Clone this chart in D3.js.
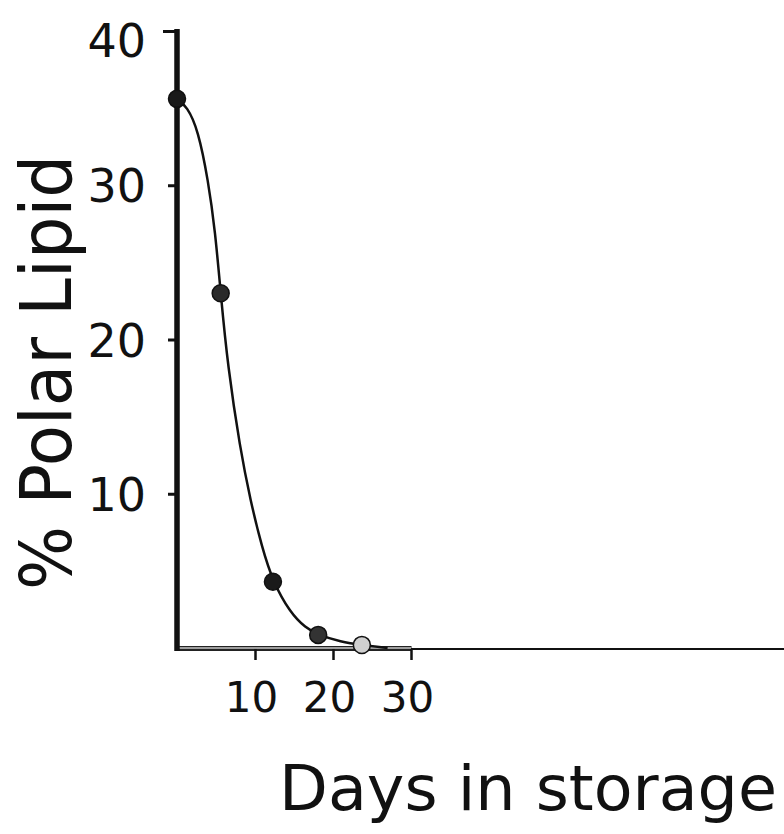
<!DOCTYPE html>
<html>
<head>
<meta charset="utf-8">
<script src="https://cdn.jsdelivr.net/npm/d3@7"></script>
<style>
  body { margin: 0; background: #fff; }
  svg { display: block; }
  text { font-family: "DejaVu Sans", sans-serif; fill: #111; }
</style>
</head>
<body>
<div id="chart"></div>
<script>
// measured points
var days = [0, 5.6, 12.3, 18.1, 23.7];
var polarLipid = [35.6, 23.0, 4.3, 0.85, 0.2];
var pointFills = ["#1a1a1a", "#2a2a2a", "#1a1a1a", "#333", "#cfcfcf"];

// hand drawn fitted curve
var curveDays = [0, 1.3, 2.7, 4.0, 4.9, 5.6, 6.5, 8.1, 9.4, 10.9, 12.3, 14.5, 16.5, 18.1, 21, 23.7, 27];
var curveValues = [35.6, 35.1, 33.6, 30.3, 27.0, 23.0, 18.3, 12.9, 9.6, 6.5, 4.3, 2.3, 1.3, 0.85, 0.4, 0.2, 0];

var xTicks = [10, 20, 30];
var yTicks = [10, 20, 30, 40];

var W = 784, H = 834;

var svg = d3.select("#chart").append("svg")
    .attr("width", W)
    .attr("height", H);

var x = d3.scaleLinear().domain([0, 30]).range([177, 411]);
var y = d3.scaleLinear().domain([0, 40]).range([648, 31]);

// x axis: extension to the right edge
svg.append("line")
    .attr("x1", x(30)).attr("x2", W)
    .attr("y1", y(0) + 1).attr("y2", y(0) + 1)
    .attr("stroke", "#111")
    .attr("stroke-width", 2);

// x axis, the thick part
var xAxis = svg.append("g")
    .attr("transform", "translate(0," + y(0) + ")")
    .call(d3.axisBottom(x).tickValues(xTicks).tickSize(12).tickSizeOuter(0).tickFormat(d3.format("d")));
xAxis.select(".domain").attr("stroke", "#222").attr("stroke-width", 5);
xAxis.append("line")
    .attr("x1", x(0)).attr("x2", x(30))
    .attr("stroke", "#c8c8c8")
    .attr("stroke-width", 1.5);
xAxis.selectAll(".tick line").attr("stroke", "#111").attr("stroke-width", 2.5);
xAxis.selectAll(".tick text")
    .attr("y", 34)
    .attr("dy", "0.71em")
    .attr("dx", -4)
    .style("font-size", "42px")
    .style("font-family", "DejaVu Sans, sans-serif")
    .attr("fill", "#111");

// y axis
var yAxis = svg.append("g")
    .attr("transform", "translate(" + x(0) + ",0)")
    .call(d3.axisLeft(y).tickValues(yTicks).tickSize(9).tickSizeOuter(0).tickPadding(22));
yAxis.select(".domain").remove();
yAxis.append("line")
    .attr("x1", 0).attr("x2", 0)
    .attr("y1", y(40) - 2).attr("y2", y(0) + 3)
    .attr("stroke", "#111")
    .attr("stroke-width", 5.5);
yAxis.selectAll(".tick line").attr("stroke", "#111").attr("stroke-width", 3)
    .attr("x2", function(d) { return d === 40 ? -14 : -9; });
yAxis.selectAll(".tick text")
    .style("font-size", "46px")
    .style("font-family", "DejaVu Sans, sans-serif")
    .attr("fill", "#111")
    .attr("dy", function(d) { return d === 40 ? "0.55em" : "0.36em"; });

// curve
var line = d3.line()
    .x(function(d) { return x(d[0]); })
    .y(function(d) { return y(d[1]); })
    .curve(d3.curveBasis);

svg.append("path")
    .datum(d3.zip(curveDays, curveValues))
    .attr("d", line)
    .attr("fill", "none")
    .attr("stroke", "#111")
    .attr("stroke-width", 2.5);

// points
svg.selectAll(".pt")
    .data(d3.zip(days, polarLipid, pointFills))
    .enter().append("circle")
    .attr("class", "pt")
    .attr("cx", function(d) { return x(d[0]); })
    .attr("cy", function(d) { return y(d[1]); })
    .attr("r", 8.5)
    .attr("fill", function(d) { return d[2]; })
    .attr("stroke", "#111")
    .attr("stroke-width", 1.5);

// axis titles
svg.append("text")
    .attr("x", 279)
    .attr("y", 810)
    .attr("textLength", 498)
    .attr("lengthAdjust", "spacingAndGlyphs")
    .style("font-size", "62px")
    .text("Days in  storage");

svg.append("text")
    .attr("transform", "translate(71,590) rotate(-90)")
    .attr("textLength", 435)
    .attr("lengthAdjust", "spacingAndGlyphs")
    .style("font-size", "72px")
    .text("% Polar  Lipid");
</script>
</body>
</html>
